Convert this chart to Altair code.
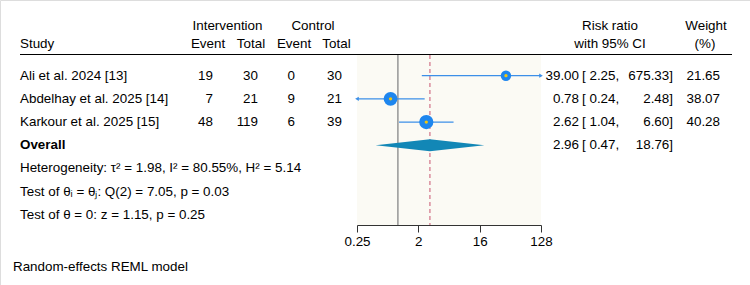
import altair as alt
import pandas as pd

# ---------------- data ----------------
studies = ["Ali et al. 2024 [13]", "Abdelhay et al. 2025 [14]", "Karkour et al. 2025 [15]"]
int_event = [19, 7, 48]
int_total = [30, 21, 119]
ctl_event = [0, 9, 6]
ctl_total = [30, 21, 39]
rr = [39.00, 0.78, 2.62]
ci_lo = [2.25, 0.24, 1.04]
ci_hi = [675.33, 2.48, 6.60]
weight = [21.65, 38.07, 40.28]

overall_label = "Overall"
overall_rr = 2.96
overall_lo = 0.47
overall_hi = 18.76

stat_lines = [
    "Heterogeneity: τ² = 1.98, I² = 80.55%, H² = 5.14",
    "Test of θᵢ = θⱼ: Q(2) = 7.05, p = 0.03",
    "Test of θ = 0: z = 1.15, p = 0.25",
]
footnote = "Random-effects REML model"
x_ticks = [0.25, 2, 16, 128]
null_value = 1

FONT = "Liberation Sans"
FS = 13.4

# ---------------- tables ----------------
xmin, xmax = min(x_ticks), max(x_ticks)
n = len(studies)
df = pd.DataFrame({
    "study": studies, "ie": int_event, "it": int_total, "ce": ctl_event, "ct": ctl_total,
    "rr": rr, "lo": ci_lo, "hi": ci_hi, "w": weight,
})
df["row"] = list(range(n))
df["lo_c"] = df["lo"].clip(xmin, xmax)
df["hi_c"] = df["hi"].clip(xmin, xmax)
df["rr_t"] = df["rr"].map(lambda v: f"{v:.2f}")
df["lo_t"] = df["lo"].map(lambda v: f"[ {v:.2f},")
df["hi_t"] = df["hi"].map(lambda v: f"{v:.2f}]")
df["w_t"] = df["w"].map(lambda v: f"{v:.2f}")
df["xmin"] = xmin
df["xmax"] = xmax

ov_row = n
ov = pd.DataFrame({"row": [ov_row], "label": [overall_label], "rr": [overall_rr],
                   "rr_t": [f"{overall_rr:.2f}"], "lo_t": [f"[ {overall_lo:.2f},"],
                   "hi_t": [f"{overall_hi:.2f}]"]})
half = 0.26
dia = pd.DataFrame({
    "x": [overall_lo, overall_rr, overall_hi],
    "top": [ov_row, ov_row - half, ov_row],
    "bot": [ov_row, ov_row + half, ov_row],
})
stats = pd.DataFrame({"row": [ov_row + 1 + i for i in range(len(stat_lines))], "txt": stat_lines})
panel = pd.DataFrame({"a": [xmin], "b": [xmax], "null": [null_value], "ov": [overall_rr]})

# ---------------- scales ----------------
xscale = alt.Scale(type="log", base=2, domain=[xmin, xmax], range=[357, 541], nice=False)
xax = alt.Axis(values=x_ticks, format="~g", offset=-60, tickSize=7, domainColor="#333333",
               tickColor="#333333", labelColor="#000000", labelFontSize=FS, labelFont=FONT,
               grid=False, title=None, labelPadding=2, labelFlush=False, domainWidth=1, tickWidth=1)
last_row = ov_row + len(stat_lines)
yscale = alt.Scale(domain=[0, last_row], range=[75.7, 214.7], nice=False, zero=False)
Y = alt.Y("row:Q", scale=yscale, axis=None)

BLUE = "#1e86ee"
LINE = "#3c8fe8"
YEL = "#f2c60f"
DIA = "#1287b6"

# panel background and reference lines
bg = alt.Chart(panel).mark_rect(color="#fbfaf4").encode(
    x=alt.X("a:Q", scale=xscale, axis=xax), x2="b:Q",
    y=alt.value(55), y2=alt.value(225))
nullline = alt.Chart(panel).mark_rule(color="#9c9c9c", strokeWidth=1.6).encode(
    x=alt.X("null:Q", scale=xscale, axis=xax), y=alt.value(55), y2=alt.value(225))
ovline = alt.Chart(panel).mark_rule(color="#d98c9c", strokeWidth=1.5, strokeDash=[4, 3]).encode(
    x=alt.X("ov:Q", scale=xscale, axis=xax), y=alt.value(55), y2=alt.value(225))

base = alt.Chart(df)
ci = base.mark_rule(color=LINE, strokeWidth=1.2).encode(
    x=alt.X("lo_c:Q", scale=xscale, axis=xax), x2="hi_c:Q", y=Y)
arr_r = base.transform_filter(f"datum.hi > {xmax}").mark_point(
    shape="triangle-right", filled=True, color=LINE, size=18, opacity=1).encode(
    x=alt.X("xmax:Q", scale=xscale, axis=xax), y=Y)
arr_l = base.transform_filter(f"datum.lo < {xmin}").mark_point(
    shape="triangle-left", filled=True, color=LINE, size=18, opacity=1).encode(
    x=alt.X("xmin:Q", scale=xscale, axis=xax), y=Y)
pts = base.mark_circle(color=BLUE, opacity=1).encode(
    x=alt.X("rr:Q", scale=xscale, axis=xax), y=Y,
    size=alt.Size("w:Q", scale=alt.Scale(domain=[0, 45], range=[0, 225]), legend=None))
dots = base.mark_circle(color=YEL, opacity=1, size=11).encode(
    x=alt.X("rr:Q", scale=xscale, axis=xax), y=Y)

diamond = alt.Chart(dia).mark_area(color=DIA, orient="vertical", opacity=1).encode(
    x=alt.X("x:Q", scale=xscale, axis=xax), y=alt.Y("top:Q", scale=yscale, axis=None), y2="bot:Q")


def col(data, field, xpos, align, weight="normal"):
    return alt.Chart(data).mark_text(align=align, baseline="middle", font=FONT, fontSize=FS,
                                      color="#000000", fontWeight=weight).encode(
        x=alt.value(xpos), y=Y, text=field)


texts = [
    col(df, "study:N", 20, "left"),
    col(df, "ie:Q", 213, "right"),
    col(df, "it:Q", 258, "right"),
    col(df, "ce:Q", 295, "right"),
    col(df, "ct:Q", 342, "right"),
    col(df, "rr_t:N", 579, "right"),
    col(df, "lo_t:N", 582, "left"),
    col(df, "hi_t:N", 673, "right"),
    col(df, "w_t:N", 720, "right"),
    col(ov, "label:N", 20, "left", "bold"),
    col(ov, "rr_t:N", 579, "right"),
    col(ov, "lo_t:N", 582, "left"),
    col(ov, "hi_t:N", 673, "right"),
    col(stats, "txt:N", 20, "left"),
]

headers = pd.DataFrame({
    "t": ["Intervention", "Control", "Study", "Event", "Total", "Event", "Total",
          "Risk ratio", "with 95% CI", "Weight", "(%)"],
    "x": [227.5, 313, 20, 208, 251, 294, 336.5, 610, 610, 706, 705],
    "y": [26, 26, 44, 44, 44, 44, 44, 26, 44, 26, 44],
    "al": ["center", "center", "left", "center", "center", "center", "center",
           "center", "center", "center", "center"],
})
hdr_layers = []
for _, r in headers.iterrows():
    hdr_layers.append(
        alt.Chart(pd.DataFrame({"t": [r["t"]]})).mark_text(
            align=r["al"], baseline="middle", font=FONT, fontSize=FS, color="#000000").encode(
            x=alt.value(float(r["x"])), y=alt.value(float(r["y"])), text="t:N"))

hline = alt.Chart(panel).mark_rule(color="#000000", strokeWidth=1.2).encode(
    x=alt.value(20), x2=alt.value(732), y=alt.value(54.5))

foot = alt.Chart(pd.DataFrame({"t": [footnote]})).mark_text(
    align="left", baseline="middle", font=FONT, fontSize=FS, color="#000000").encode(
    x=alt.value(13), y=alt.value(267), text="t:N")

chart = alt.layer(
    bg, nullline, ovline, ci, arr_r, arr_l, pts, dots, diamond, hline, foot,
    *texts, *hdr_layers
).properties(
    width=750, height=285, padding=0, autosize=alt.AutoSizeParams(type="none")
).configure_view(stroke=None).configure(background="white")

chart.save("out.html", embed_options={"renderer": "svg", "actions": False})
